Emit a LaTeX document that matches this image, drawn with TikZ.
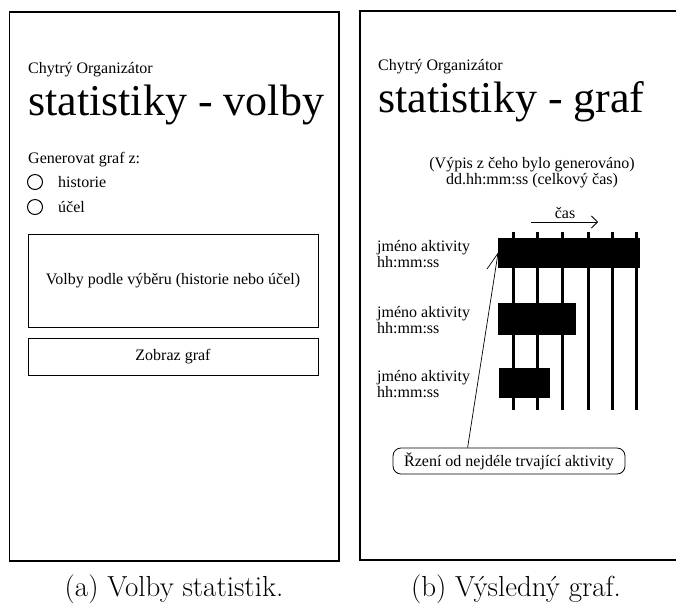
\documentclass[tikz,border=0pt]{standalone}
\usepackage{fontspec}
\newfontfamily\tnr{Liberation Serif}
\usetikzlibrary{arrows.meta}
\begin{document}
\begin{tikzpicture}[x=1pt,y=-1pt,
  frame/.style={draw, line width=1.6pt},
  box/.style={draw, line width=0.8pt, inner sep=0pt},
  txt/.style={font=\tnr\fontsize{16}{14}\selectfont, inner sep=0pt},
  label/.style={font=\tnr\fontsize{16}{12.5}\selectfont, inner sep=0pt, align=left, anchor=base west},
  headline/.style={font=\tnr\fontsize{44}{44}\selectfont, inner sep=0pt},
  radio/.style={draw, circle, line width=1pt, minimum size=15pt, inner sep=0pt},
  bar/.style={fill=black, draw=none, inner sep=0pt, anchor=north west},
  tick/.style={line width=3pt},
  caption/.style={font=\fontsize{29}{29}\selectfont, inner sep=0pt, anchor=base}
]
\useasboundingbox (0,0) rectangle (676,606);

% ---------- panel (a): options ----------
\draw[frame] (9.5,12) rectangle (339,561);
\node[txt, anchor=base west] (appa) at (28,73) {Chytrý Organizátor};
\node[headline, anchor=base west] (titlea) at (28,115) {statistiky - volby};
\node[txt, anchor=base west] (gen) at (28,163) {Generovat graf z:};
\node[radio] (r1) at (35,182) {};
\node[txt, anchor=base west] (hist) at (58,187) {historie};
\node[radio] (r2) at (35,207) {};
\node[txt, anchor=base west] (ucel) at (58,212) {účel};
\node[box, txt, draw, minimum width=290pt, minimum height=93pt] (opts) at (173,280.5)
  {Volby podle výběru (historie nebo účel)};
\node[box, txt, draw, minimum width=290pt, minimum height=37pt] (show) at (173,356.5)
  {Zobraz graf};

% ---------- panel (b): resulting chart ----------
\draw[frame] (678,11) -- (359.7,11) -- (359.7,559.7) -- (678,559.7);
\node[txt, anchor=base west] (appb) at (378,70) {Chytrý Organizátor};
\node[headline, anchor=base west] (titleb) at (378,112) {statistiky - graf};
\node[font=\tnr\fontsize{16}{14.5}\selectfont, inner sep=0pt, align=center, anchor=base] (src) at (532,184)
  {(Výpis z čeho bylo generováno)\\dd.hh:mm:ss (celkový čas)};

% time axis label and arrow
\node[txt, anchor=base] (cas) at (565,218) {čas};
\coordinate (ta) at (531,222);
\coordinate (tb) at (598,222);
\draw[line width=0.8pt, -{Straight Barb[length=6pt, width=12pt]}] (ta) -- (tb);

% vertical time grid
\foreach \gx/\gn in {513/1, 537/2, 562/3, 588/4, 612/5, 636/6} {
  \coordinate (gt\gn) at (\gx,232);
  \coordinate (gb\gn) at (\gx,410);
  \draw[tick] (gt\gn) -- (gb\gn);
}

% activity bars
\node[bar, minimum width=142pt, minimum height=30pt] (b1) at (498,238) {};
\node[bar, minimum width=78pt, minimum height=32pt] (b2) at (498,303) {};
\node[bar, minimum width=51pt, minimum height=30pt] (b3) at (499,368) {};

% activity labels (anchored at the baseline of the second line)
\node[label] (l1) at (377,267.5) {jméno aktivity\\hh:mm:ss};
\node[label] (l2) at (377,333.5) {jméno aktivity\\hh:mm:ss};
\node[label] (l3) at (377,397.5) {jméno aktivity\\hh:mm:ss};

% sorting note with pointer
\node[txt, draw, line width=0.8pt, rounded corners=8pt, minimum width=232pt,
  minimum height=26pt] (note) at (509,461) {Řzení od nejdéle trvající aktivity};
\coordinate (barb) at (487,269);
\draw[line width=0.7pt] ([xshift=75pt]note.north west) -- (b1.west) -- (barb);

% captions
\node[caption] (capa) at (174,596) {(a) Volby statistik.};
\node[caption] (capb) at (516,596) {(b) Výsledný graf.};
\end{tikzpicture}
\end{document}
